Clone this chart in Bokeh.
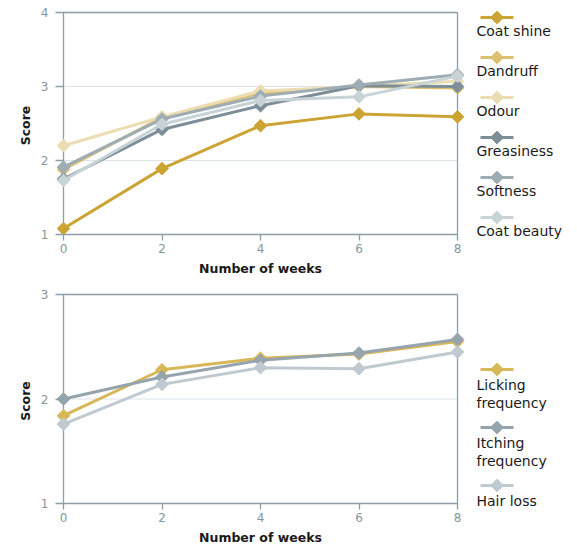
from bokeh.plotting import figure
from bokeh.layouts import column, row
from bokeh.models import Range1d, FixedTicker, Label
from bokeh.embed import file_html
from bokeh.resources import INLINE

# ---------------- data ----------------
weeks = [0, 2, 4, 6, 8]

coat_shine = [1.08, 1.89, 2.47, 2.63, 2.59]
dandruff = [1.88, 2.58, 2.91, 3.00, 2.98]
odour = [2.20, 2.59, 2.94, 3.00, 3.07]
greasiness = [1.75, 2.42, 2.74, 3.01, 3.00]
softness = [1.91, 2.56, 2.87, 3.02, 3.16]
coat_beauty = [1.73, 2.49, 2.81, 2.86, 3.14]

licking = [1.84, 2.28, 2.39, 2.43, 2.55]
itching = [2.00, 2.21, 2.37, 2.44, 2.57]
hair_loss = [1.76, 2.14, 2.30, 2.29, 2.45]

top_names = ["Coat shine", "Dandruff", "Odour", "Greasiness", "Softness", "Coat beauty"]
top_series = [coat_shine, dandruff, odour, greasiness, softness, coat_beauty]
top_colors = ["#cba434", "#dcbf70", "#ecdcb1", "#7d8e98", "#9eacb4", "#c8d3d8"]
top_yticks = [1, 2, 3, 4]

bot_names = ["Licking\nfrequency", "Itching\nfrequency", "Hair loss"]
bot_series = [licking, itching, hair_loss]
bot_colors = ["#d8b758", "#95a4ad", "#bfcad0"]
bot_yticks = [1, 2, 3]

x_ticks = [0, 2, 4, 6, 8]

FONT = "DejaVu Sans"
AXIS_COL = "#8d9da7"
TICK_COL = "#8596a1"
GRID_COL = "#dde4e8"

FRAME_W = 394          # pixels between x=0 and x=8
PAD_X = 7              # pixels of room for markers left of x=0 / right of x=8
PAD_B = 6              # pixels below y min (the x ticks are drawn inside it)
LEFT = 56              # canvas x of the frame's left edge


def make_panel(series, colors, yticks, height, frame_h, pad_top, border_top):
    xs, xe = x_ticks[0], x_ticks[-1]
    ys, ye = yticks[0], yticks[-1]
    ux = (xe - xs) / FRAME_W
    uy = (ye - ys) / frame_h
    frame_bottom = border_top + pad_top + frame_h + PAD_B
    p = figure(width=LEFT + FRAME_W + 2 * PAD_X + 4, height=height, title=None,
               output_backend="svg", toolbar_location=None,
               x_range=Range1d(xs - PAD_X * ux, xe + PAD_X * ux),
               y_range=Range1d(ys - PAD_B * uy, ye + pad_top * uy),
               min_border_left=LEFT, min_border_right=4,
               min_border_top=border_top, min_border_bottom=height - frame_bottom)
    p.outline_line_color = None
    p.xgrid.grid_line_color = None
    p.ygrid.grid_line_color = None
    # horizontal grid lines at the y ticks, between the x axis limits
    p.segment(x0=[xs] * len(yticks), x1=[xe] * len(yticks), y0=yticks, y1=yticks,
              line_color=GRID_COL, line_width=1)
    # axis lines and frame border
    p.line([xs, xs, xe, xe, xs], [ys, ye, ye, ys, ys], line_color=AXIS_COL, line_width=1.3)

    p.xaxis.ticker = FixedTicker(ticks=x_ticks)
    p.yaxis.ticker = FixedTicker(ticks=yticks)
    for ax in (p.xaxis[0], p.yaxis[0]):
        ax.axis_line_color = None
        ax.major_tick_line_color = AXIS_COL
        ax.major_tick_line_width = 1.3
        ax.minor_tick_line_color = None
        ax.major_label_text_font = FONT
        ax.major_label_text_font_size = "12px"
        ax.major_label_text_color = TICK_COL
        ax.axis_label_text_font = FONT
        ax.axis_label_text_font_size = "12.5px"
        ax.axis_label_text_font_style = "bold"
        ax.axis_label_text_color = "#1a1a1a"
    p.xaxis.major_tick_in = PAD_B
    p.xaxis.major_tick_out = 0
    p.yaxis.major_tick_in = PAD_X
    p.yaxis.major_tick_out = 1
    p.xaxis.major_label_standoff = 3
    p.yaxis.major_label_standoff = 7
    p.xaxis.axis_label = "Number of weeks"
    p.yaxis.axis_label = "Score"
    p.xaxis.axis_label_standoff = 5
    p.yaxis.axis_label_standoff = 5
    for s, c in zip(series, colors):
        p.line(weeks, s, line_color=c, line_width=3)
        p.scatter(weeks, s, marker="square", angle=0.785398, size=9,
                  fill_color=c, line_color=c, line_width=1)
    return p, border_top, frame_bottom


def make_legend(names, colors, width, height, frame_top, frame_bottom,
                first_y, text_gap, item_gap, line_h):
    # the row aligns this figure's frame with the chart's frame, so map the
    # y range onto that frame so that one unit is one canvas pixel
    lg = figure(width=width, height=height, title=None,
                output_backend="svg", toolbar_location=None,
                x_axis_location=None, y_axis_location=None,
                x_range=Range1d(0, width), y_range=Range1d(frame_bottom, frame_top),
                min_border=0, min_border_left=0, min_border_right=0,
                min_border_top=frame_top, min_border_bottom=height - frame_bottom)
    lg.grid.grid_line_color = None
    lg.outline_line_color = None
    y = first_y
    for name, c in zip(names, colors):
        lg.line([12, 45], [y, y], line_color=c, line_width=3)
        lg.scatter([28.5], [y], marker="square", angle=0.785398, size=9,
                   fill_color=c, line_color=c)
        ty = y + text_gap
        for ln in name.split("\n"):
            lg.add_layout(Label(x=8, y=ty, text=ln, text_font=FONT, text_font_size="14px",
                                text_color="#1a1a1a", text_baseline="middle",
                                text_align="left"))
            ty += line_h
        y = ty - line_h + item_gap
    return lg


top, t_ft, t_fb = make_panel(top_series, top_colors, top_yticks, 280, 222, 2, 10)
bot, b_ft, b_fb = make_panel(bot_series, bot_colors, bot_yticks, 267, 209, 2, 12)

leg_w = 577 - top.width
top_leg = make_legend(top_names, top_colors, leg_w, 280, t_ft, t_fb, 17, 13, 27, 18)
bot_leg = make_legend(bot_names, bot_colors, leg_w, 267, b_ft, b_fb, 89, 15, 25, 18)

layout = column(row(top, top_leg), row(bot, bot_leg))

open("out.html", "w").write(file_html(layout, INLINE))
